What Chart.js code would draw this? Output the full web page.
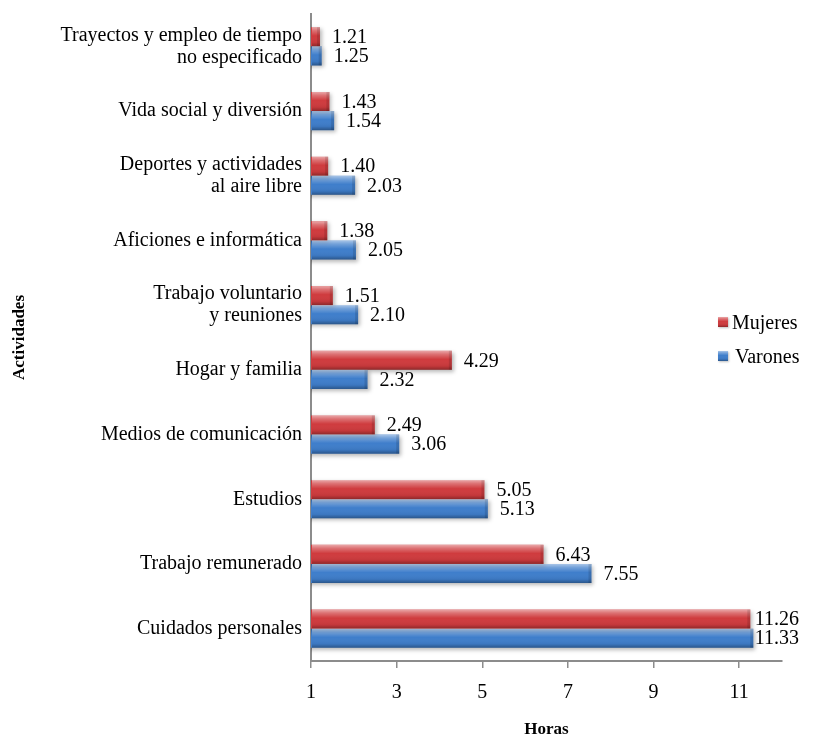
<!DOCTYPE html>
<html>
<head>
<meta charset="utf-8">
<script src="https://cdn.jsdelivr.net/npm/chart.js@4/dist/chart.umd.min.js"></script>
<style>
  html, body { margin: 0; padding: 0; background: #ffffff; }
  #wrap { width: 813px; height: 740px; }
</style>
</head>
<body>
<div id="wrap"><canvas id="chart" width="813" height="740"></canvas></div>
<script>
// Activities, listed top to bottom
const categories = [
  ['Trayectos y empleo de tiempo', 'no especificado'],
  'Vida social y diversión',
  ['Deportes y actividades', 'al aire libre'],
  'Aficiones e informática',
  ['Trabajo voluntario', 'y reuniones'],
  'Hogar y familia',
  'Medios de comunicación',
  'Estudios',
  'Trabajo remunerado',
  'Cuidados personales'
];
const mujeres = [1.21, 1.43, 1.40, 1.38, 1.51, 4.29, 2.49, 5.05, 6.43, 11.26];
const varones = [1.25, 1.54, 2.03, 2.05, 2.10, 2.32, 3.06, 5.13, 7.55, 11.33];
const xTicks = [1, 3, 5, 7, 9, 11];
const seriesNames = ['Mujeres', 'Varones'];

const SERIF = '"Liberation Serif", "Times New Roman", serif';
const AXIS_GREY = '#8c8c8c';

// Drop shadow behind the bars
const barShadow = {
  id: 'barShadow',
  beforeDatasetsDraw(chart) {
    const ctx = chart.ctx;
    ctx.save();
    ctx.shadowColor = 'rgba(0,0,0,0.28)';
    ctx.shadowBlur = 4;
    ctx.shadowOffsetX = 2;
    ctx.shadowOffsetY = 2;
  },
  afterDatasetsDraw(chart) {
    chart.ctx.restore();
  }
};

// Bevel shading used on bars and legend keys
function shade(ctx, x0, y0, x1, y1) {
  const g = ctx.createLinearGradient(0, y0, 0, y1);
  g.addColorStop(0, 'rgba(255,255,255,0.55)');
  g.addColorStop(0.18, 'rgba(255,255,255,0.28)');
  g.addColorStop(0.45, 'rgba(255,255,255,0.0)');
  g.addColorStop(0.8, 'rgba(0,0,0,0.06)');
  g.addColorStop(1, 'rgba(0,0,0,0.32)');
  ctx.fillStyle = g;
  ctx.fillRect(x0, y0, x1 - x0, y1 - y0);
}

// Shading over each bar, then its value label
const barFinish = {
  id: 'barFinish',
  afterDatasetsDraw(chart) {
    const ctx = chart.ctx;
    const left = chart.chartArea.left;
    chart.data.datasets.forEach((ds, di) => {
      const meta = chart.getDatasetMeta(di);
      meta.data.forEach((el, i) => {
        const p = el.getProps(['x', 'y', 'base', 'height'], true);
        const x0 = Math.max(p.base, left + 1);
        const top = p.y - p.height / 2, bot = p.y + p.height / 2;
        ctx.save();
        shade(ctx, x0, top, p.x, bot);
        ctx.fillStyle = 'rgba(0,0,0,0.12)';
        ctx.fillRect(p.x - 3, top, 3, p.height);
        ctx.restore();

        ctx.save();
        ctx.font = '20px ' + SERIF;
        ctx.fillStyle = '#000';
        ctx.textAlign = 'left';
        ctx.textBaseline = 'middle';
        const txt = ds.data[i].toFixed(2);
        const w = ctx.measureText(txt).width;
        const tx = Math.min(p.x + 12, chart.width - 14 - w);
        ctx.fillText(txt, tx, p.y + 1);
        ctx.restore();
      });
    });
  }
};

// Legend inside the plot, on the right
const sideLegend = {
  id: 'sideLegend',
  afterDraw(chart) {
    const ctx = chart.ctx;
    const x = 718, ys = [323, 357], s = 10;
    chart.data.datasets.forEach((ds, i) => {
      const y = ys[i];
      ctx.save();
      ctx.shadowColor = 'rgba(0,0,0,0.25)';
      ctx.shadowBlur = 2;
      ctx.shadowOffsetX = 1;
      ctx.shadowOffsetY = 1;
      ctx.fillStyle = ds.backgroundColor;
      ctx.fillRect(x, y - s / 2 - 1, s, s);
      ctx.restore();
      ctx.save();
      shade(ctx, x, y - s / 2 - 1, x + s, y + s / 2 - 1);
      ctx.font = '20px ' + SERIF;
      ctx.fillStyle = '#000';
      ctx.textBaseline = 'middle';
      ctx.fillText(ds.label, x + 14 + (i === 1 ? 3 : 0), y + 1);
      ctx.restore();
    });
  }
};

new Chart(document.getElementById('chart'), {
  type: 'bar',
  data: {
    labels: categories,
    datasets: [
      { label: seriesNames[0], data: mujeres, backgroundColor: '#cf3b3e' },
      { label: seriesNames[1], data: varones, backgroundColor: '#3f7ecb' }
    ]
  },
  options: {
    indexAxis: 'y',
    responsive: false,
    animation: false,
    layout: { padding: { left: 0, right: 31, top: 14, bottom: 0 } },
    datasets: {
      bar: { categoryPercentage: 0.59, barPercentage: 1.0, borderWidth: 0 }
    },
    plugins: {
      legend: { display: false },
      tooltip: { enabled: false }
    },
    scales: {
      x: {
        type: 'linear',
        min: 1,
        max: 12,
        afterBuildTicks(scale) { scale.ticks = xTicks.map(v => ({ value: v })); },
        afterFit(scale) { scale.height = 79; scale.paddingLeft = 0; scale.paddingRight = 0; },
        grid: { display: true, drawOnChartArea: false, drawTicks: true, tickLength: 7, color: AXIS_GREY, lineWidth: 1.5 },
        border: { display: true, color: AXIS_GREY, width: 2 },
        ticks: { font: { family: SERIF, size: 20 }, color: '#000', padding: 13, maxRotation: 0 },
        title: { display: true, text: 'Horas', color: '#000', font: { family: SERIF, size: 17, weight: 'bold' }, padding: { top: 0, bottom: 0 } }
      },
      y: {
        afterFit(scale) { scale.width = 311; scale.paddingTop = 0; scale.paddingBottom = 0; },
        grid: { display: false, drawTicks: false },
        border: { display: true, color: AXIS_GREY, width: 2 },
        ticks: { font: { family: SERIF, size: 20, lineHeight: 1.1 }, color: '#000', padding: 9 },
        title: { display: true, text: 'Actividades', color: '#000', font: { family: SERIF, size: 17, weight: 'bold' }, padding: { top: 9, bottom: 0 } }
      }
    }
  },
  plugins: [barShadow, barFinish, sideLegend]
});
</script>
</body>
</html>
